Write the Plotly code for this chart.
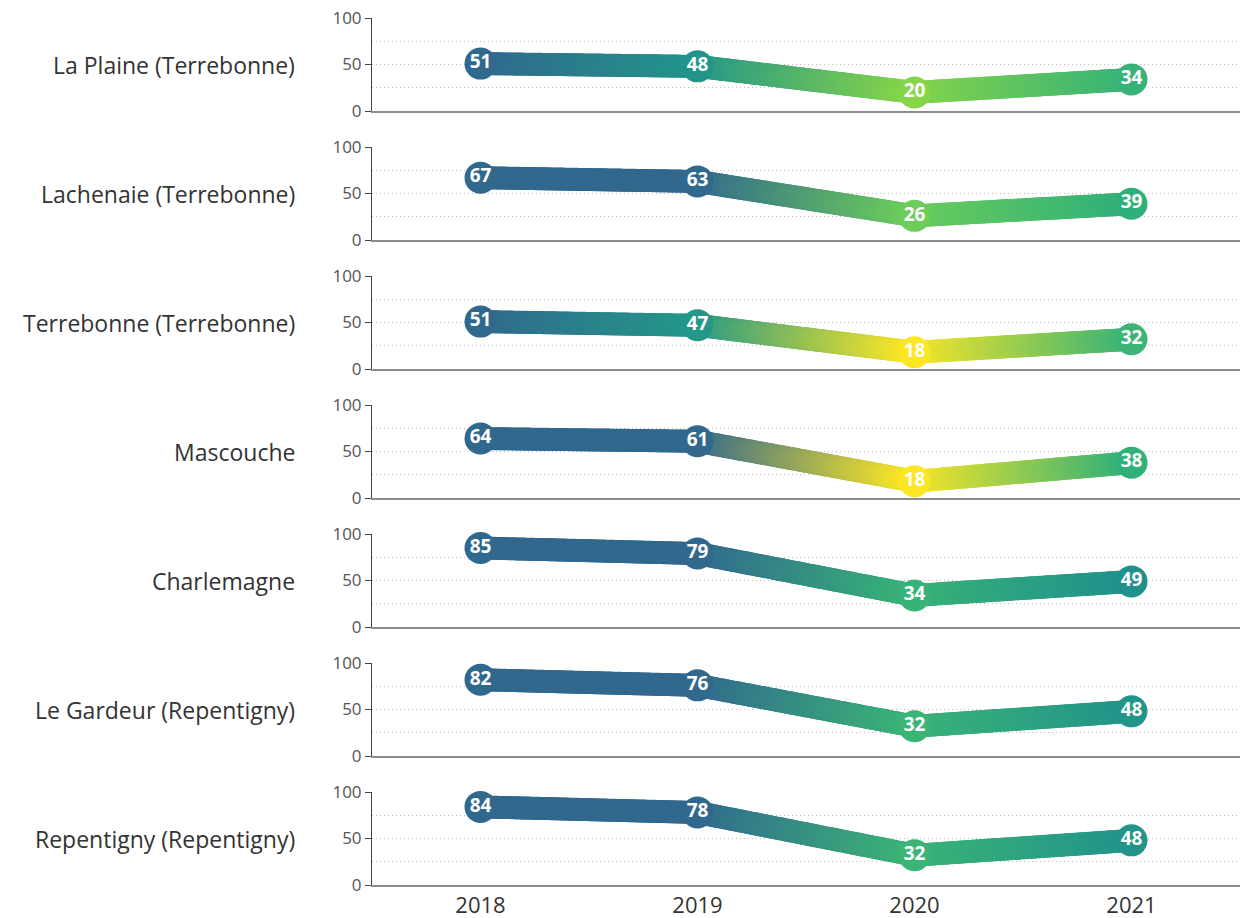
import numpy as np
import plotly.graph_objects as go
from plotly.subplots import make_subplots

# Survey years and areas
years = [2018, 2019, 2020, 2021]
areas = [
    "La Plaine (Terrebonne)",
    "Lachenaie (Terrebonne)",
    "Terrebonne (Terrebonne)",
    "Mascouche",
    "Charlemagne",
    "Le Gardeur (Repentigny)",
    "Repentigny (Repentigny)",
]

# Values per area, one per year
la_plaine = [51, 48, 20, 34]
lachenaie = [67, 63, 26, 39]
terrebonne = [51, 47, 18, 32]
mascouche = [64, 61, 18, 38]
charlemagne = [85, 79, 34, 49]
le_gardeur = [82, 76, 32, 48]
repentigny = [84, 78, 32, 48]
series = [la_plaine, lachenaie, terrebonne, mascouche, charlemagne, le_gardeur, repentigny]

# Value -> colour ramp (low = yellow, high = deep blue)
ramp_values = [18, 20, 26, 32, 39, 49, 51]
ramp_colors = ["#fde725", "#86d549", "#6ccd5a", "#3bb476", "#2fb07a", "#21918c", "#31688e"]

FONT = "Open Sans"
LINE_W = 23
DOT_SIZE = 32


def hex_rgb(h):
    h = h.lstrip("#")
    return np.array([int(h[i:i + 2], 16) for i in (0, 2, 4)], dtype=float)


ramp_rgb = np.array([hex_rgb(c) for c in ramp_colors])


def value_rgb(v):
    return np.array([np.interp(v, ramp_values, ramp_rgb[:, k]) for k in range(3)])


def rgb_str(c):
    return "rgb({:.0f},{:.0f},{:.0f})".format(*c)


n_rows = len(areas)
fig = make_subplots(rows=n_rows, cols=1, shared_xaxes=True, vertical_spacing=36 / 867)

for r, vals in enumerate(series, start=1):
    point_rgb = [value_rgb(v) for v in vals]

    # Thick stroke with a colour gradient along each segment, drawn as a
    # dense trail of round dots between consecutive data points.
    sx, sy, sc = [], [], []
    steps = 90
    for i in range(len(years) - 1):
        for k in range(steps):
            t = k / steps
            sx.append(years[i] + (years[i + 1] - years[i]) * t)
            sy.append(vals[i] + (vals[i + 1] - vals[i]) * t)
            sc.append(rgb_str(point_rgb[i] + (point_rgb[i + 1] - point_rgb[i]) * t))
    sx.append(years[-1])
    sy.append(vals[-1])
    sc.append(rgb_str(point_rgb[-1]))

    fig.add_trace(
        go.Scatter(
            x=sx, y=sy, mode="markers",
            marker=dict(size=LINE_W, color=sc, line=dict(width=0)),
            hoverinfo="skip", showlegend=False, cliponaxis=False,
        ),
        row=r, col=1,
    )

    fig.add_trace(
        go.Scatter(
            x=years, y=vals, mode="markers+text",
            marker=dict(size=DOT_SIZE, color=[rgb_str(c) for c in point_rgb], line=dict(width=0)),
            text=[str(v) for v in vals], textposition="middle center",
            textfont=dict(family=FONT, size=19, color="white", weight="bold"),
            showlegend=False, cliponaxis=False,
        ),
        row=r, col=1,
    )

    yref = "y" if r == 1 else f"y{r}"
    fig.add_annotation(
        xref="paper", x=0, xanchor="right", xshift=-75,
        yref=yref, y=50, yanchor="middle",
        text=areas[r - 1], showarrow=False,
        font=dict(family=FONT, size=23, color="#333333"),
    )

grid_style = dict(gridcolor="#bdbdbd", gridwidth=1, griddash="1px,3px")

fig.update_yaxes(
    range=[0, 100], tickvals=[0, 50, 100],
    showgrid=True, **grid_style,
    minor=dict(tickvals=[25, 75], showgrid=True, ticks="", **grid_style),
    ticks="outside", ticklen=6, tickcolor="#444444", tickwidth=1,
    showline=True, linecolor="#444444", linewidth=1,
    tickfont=dict(family=FONT, size=17, color="#555555"),
    zeroline=False, fixedrange=True, automargin=False,
)
fig.update_xaxes(
    range=[2017.5, 2021.5], tickvals=years,
    showgrid=False, zeroline=False,
    showline=True, linecolor="#8c8c8c", linewidth=1.5,
    ticks="", tickfont=dict(family=FONT, size=22, color="#333333"),
    fixedrange=True, automargin=False,
)

fig.update_layout(
    width=1248, height=918,
    margin=dict(l=372, r=8, t=18, b=33),
    paper_bgcolor="white", plot_bgcolor="white",
    font=dict(family=FONT),
    showlegend=False,
)

fig.write_html("out.html")
